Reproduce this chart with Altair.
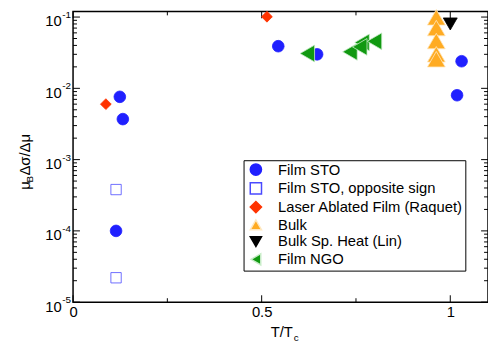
import altair as alt
import pandas as pd

# ---- data ----
SERIES = ["Film STO", "Film STO, opposite sign", "Laser Ablated Film (Raquet)",
          "Bulk", "Bulk Sp. Heat (Lin)", "Film NGO"]

sto_x = [0.124, 0.132, 0.114, 0.544, 0.647, 1.030, 1.018]
sto_y = [0.0076, 0.0037, 0.00010, 0.039, 0.030, 0.024, 0.0080]

opp_x = [0.114, 0.114]
opp_y = [3.8e-4, 2.2e-5]

laser_x = [0.087, 0.514]
laser_y = [0.0060, 0.101]

bulk_x = [0.963, 0.963, 0.963, 0.963, 0.963]
bulk_y = [0.099, 0.070, 0.046, 0.030, 0.0256]

heat_x = [1.0]
heat_y = [0.080]

ngo_x = [0.621, 0.734, 0.766, 0.760, 0.799]
ngo_y = [0.0308, 0.0325, 0.044, 0.0381, 0.0457]

SHAPES = ["circle", "square", "diamond", "triangle-up", "triangle-down", "triangle-left"]
FILLS = ["#2020ff", "white", "#ff3300", "#ffab22", "#000000", "#119911"]
STROKES = ["#2020ff", "#4a4aff", "#ff3300", "#ffe8c0", "#000000", "#c8ecc8"]
SIZES = [140, 110, 120, 330, 200, 290]

X_TICKS_MAJOR = [0, 0.5, 1.0]
X_TICKS_MINOR = [0.25, 0.75]
Y_TICKS_MAJOR = [1e-5, 1e-4, 1e-3, 1e-2, 1e-1]
Y_TICKS_MINOR = [k * 10.0 ** e for e in range(-5, -1) for k in range(2, 10)]
Y_LABEL_BASE = ["10", "10", "10", "10", "10"]
Y_LABEL_EXP = ["-5", "-4", "-3", "-2", "-1"]

X_TITLE = "T/T"
X_TITLE_SUB = "c"
Y_TITLE_MU = "μ"
Y_TITLE_SUB = "B"
Y_TITLE_REST = "Δσ/Δμ"

FONT = "Liberation Sans"
W, H = 421, 295

rows = []
for name, xs, ys, sz in zip(SERIES, [sto_x, opp_x, laser_x, bulk_x, heat_x, ngo_x],
                            [sto_y, opp_y, laser_y, bulk_y, heat_y, ngo_y], SIZES):
    for a, b in zip(xs, ys):
        rows.append({"series": name, "x": a, "y": b, "sz": sz})
df = pd.DataFrame(rows)
df["order"] = range(len(df))

xscale = alt.Scale(domain=[0, 1.1], nice=False, zero=False)
yscale = alt.Scale(type="log", domain=[1e-5, 0.12], nice=False)
xaxis = alt.Axis(values=X_TICKS_MAJOR, format="~g", ticks=False, domain=False, grid=False,
                 labelFont=FONT, labelFontSize=15, labelColor="black", labelPadding=3,
                 labelFlush=False, title=None)


def X(field):
    return alt.X(field, type="quantitative", scale=xscale, axis=xaxis)


def Y(field):
    return alt.Y(field, type="quantitative", scale=yscale, axis=None)


points = alt.Chart(df).mark_point(opacity=1, fillOpacity=1, strokeWidth=0.8).encode(
    x=X("x"),
    y=Y("y"),
    shape=alt.Shape("series:N", scale=alt.Scale(domain=SERIES, range=SHAPES), title=None),
    fill=alt.Fill("series:N", scale=alt.Scale(domain=SERIES, range=FILLS), title=None),
    stroke=alt.Stroke("series:N", scale=alt.Scale(domain=SERIES, range=STROKES), title=None),
    size=alt.Size("sz:Q", scale=None),
    order=alt.Order("order:Q"),
)

ymaj = pd.DataFrame({"v": Y_TICKS_MAJOR, "base": Y_LABEL_BASE, "exp": Y_LABEL_EXP})
ymin = pd.DataFrame({"v": Y_TICKS_MINOR})
xmaj = pd.DataFrame({"v": X_TICKS_MAJOR})
xmin = pd.DataFrame({"v": X_TICKS_MINOR})

MAJ, MIN = 7, 4
ticks = []
for d, L in [(ymaj, MAJ), (ymin, MIN)]:
    ticks.append(alt.Chart(d).mark_rule(color="black", strokeWidth=1).encode(
        y=Y("v"), x=alt.value(0), x2=alt.value(L)))
    ticks.append(alt.Chart(d).mark_rule(color="black", strokeWidth=1).encode(
        y=Y("v"), x=alt.value(W), x2=alt.value(W - L)))
for d, L in [(xmaj, MAJ), (xmin, MIN)]:
    ticks.append(alt.Chart(d).mark_rule(color="black", strokeWidth=1).encode(
        x=X("v"), y=alt.value(H), y2=alt.value(H - L)))
    ticks.append(alt.Chart(d).mark_rule(color="black", strokeWidth=1).encode(
        x=X("v"), y=alt.value(0), y2=alt.value(L)))

ylab_base = alt.Chart(ymaj).mark_text(align="right", baseline="middle", font=FONT,
                                      fontSize=15, dy=4.5, color="black").encode(
    y=Y("v"), x=alt.value(-11.5), text="base:N")
ylab_exp = alt.Chart(ymaj).mark_text(align="left", baseline="middle", font=FONT,
                                     fontSize=10, dy=-2, color="black").encode(
    y=Y("v"), x=alt.value(-11), text="exp:N")

one = pd.DataFrame({"a": [0]})
title_parts = [
    alt.Chart(one).mark_text(text=X_TITLE, align="right", baseline="alphabetic", font=FONT,
                             fontSize=15, color="black").encode(x=alt.value(223), y=alt.value(330)),
    alt.Chart(one).mark_text(text=X_TITLE_SUB, align="left", baseline="alphabetic", font=FONT,
                             fontSize=10, color="black").encode(x=alt.value(224), y=alt.value(334)),
    alt.Chart(one).mark_text(text=Y_TITLE_MU, align="left", baseline="middle", angle=270, font=FONT,
                             fontSize=15, color="black").encode(x=alt.value(-49), y=alt.value(181)),
    alt.Chart(one).mark_text(text=Y_TITLE_SUB, align="left", baseline="middle", angle=270, font=FONT,
                             fontSize=10, color="black").encode(x=alt.value(-43.5), y=alt.value(173.5)),
    alt.Chart(one).mark_text(text=Y_TITLE_REST, align="left", baseline="middle", angle=270, font=FONT,
                             fontSize=15, color="black").encode(x=alt.value(-49), y=alt.value(166.5)),
]

chart = alt.layer(*ticks, ylab_base, ylab_exp, *title_parts, points).properties(
    width=W, height=H,
    autosize=alt.AutoSizeParams(type="none"),
    padding={"left": 66, "top": 1, "right": 0, "bottom": 41},
).configure_view(
    stroke="black", strokeWidth=1.5
).configure_legend(
    orient="none", legendX=173, legendY=151,
    strokeColor="black", fillColor="white", padding=2, symbolOffset=3,
    labelOffset=15, rowPadding=0, labelFont=FONT, labelFontSize=15,
    labelColor="black", labelLimit=400, titlePadding=0, symbolSize=130,
)

chart.save("out.html", embed_options={"renderer": "svg", "actions": False})
